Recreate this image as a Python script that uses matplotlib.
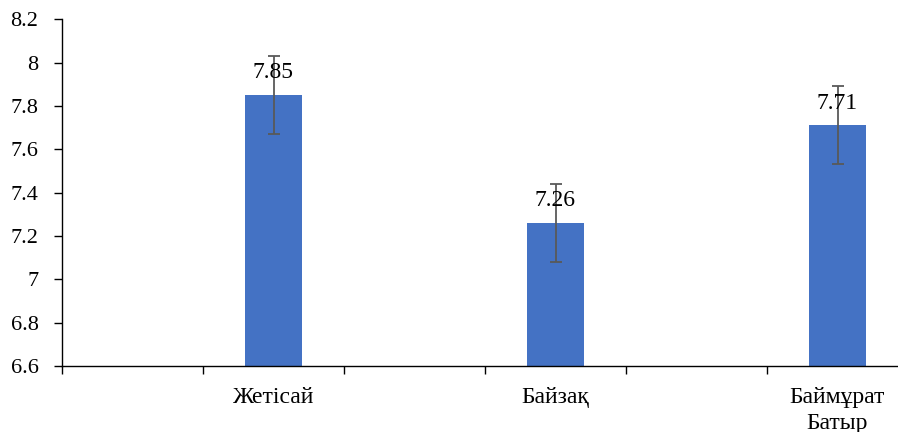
import numpy as np
import matplotlib.pyplot as plt

# six category slots, every other one empty (as in the source sheet)
categories = ["", "Жетісай", "", "Байзақ", "", "Баймұрат\nБатыр"]
means = [np.nan, 7.85, np.nan, 7.26, np.nan, 7.71]
errors = [np.nan, 0.18, np.nan, 0.18, np.nan, 0.18]
labels = ["", "7.85", "", "7.26", "", "7.71"]
yticks = [6.6, 6.8, 7.0, 7.2, 7.4, 7.6, 7.8, 8.0, 8.2]
ytick_labels = ["6.6", "6.8", "7", "7.2", "7.4", "7.6", "7.8", "8", "8.2"]

plt.rcParams["font.family"] = ["Liberation Serif", "DejaVu Serif"]

fig = plt.figure(figsize=(8.98, 4.32), dpi=100)
ax = fig.add_axes([62 / 898, 1 - 366 / 432, 846 / 898, (366 - 19.3) / 432])

x = np.arange(len(categories))
ax.bar(x, means, width=0.4, color="#4472C4", zorder=2)
ax.errorbar(x, means, yerr=errors, fmt="none", ecolor="#595959",
            elinewidth=1.3, capsize=4.5, capthick=1.3, zorder=3)

for xi, m, lab in zip(x, means, labels):
    if lab:
        ax.annotate(lab, (xi, m), xytext=(0, 12), textcoords="offset points",
                    ha="center", va="baseline", fontsize=17, color="black",
                    zorder=4)

ax.set_xlim(-0.5, len(categories) - 0.5)
ax.set_ylim(6.6, 8.2)
ax.set_yticks(yticks)
ax.set_yticklabels(ytick_labels, fontsize=16)

ax.set_xticks(np.arange(len(categories) + 1) - 0.5)
ax.set_xticklabels([])
ax.set_xticks(x, minor=True)
ax.set_xticklabels(categories, minor=True, fontsize=17, linespacing=1.3)
ax.tick_params(axis="x", which="minor", length=0, pad=15)
ax.tick_params(axis="x", which="major", length=6, width=1, direction="out")
ax.tick_params(axis="y", length=6, width=1, pad=11, direction="out")

for s in ["top", "right"]:
    ax.spines[s].set_visible(False)
for s in ["left", "bottom"]:
    ax.spines[s].set_linewidth(1)
    ax.spines[s].set_color("black")

fig.savefig("out.png", dpi=100)
